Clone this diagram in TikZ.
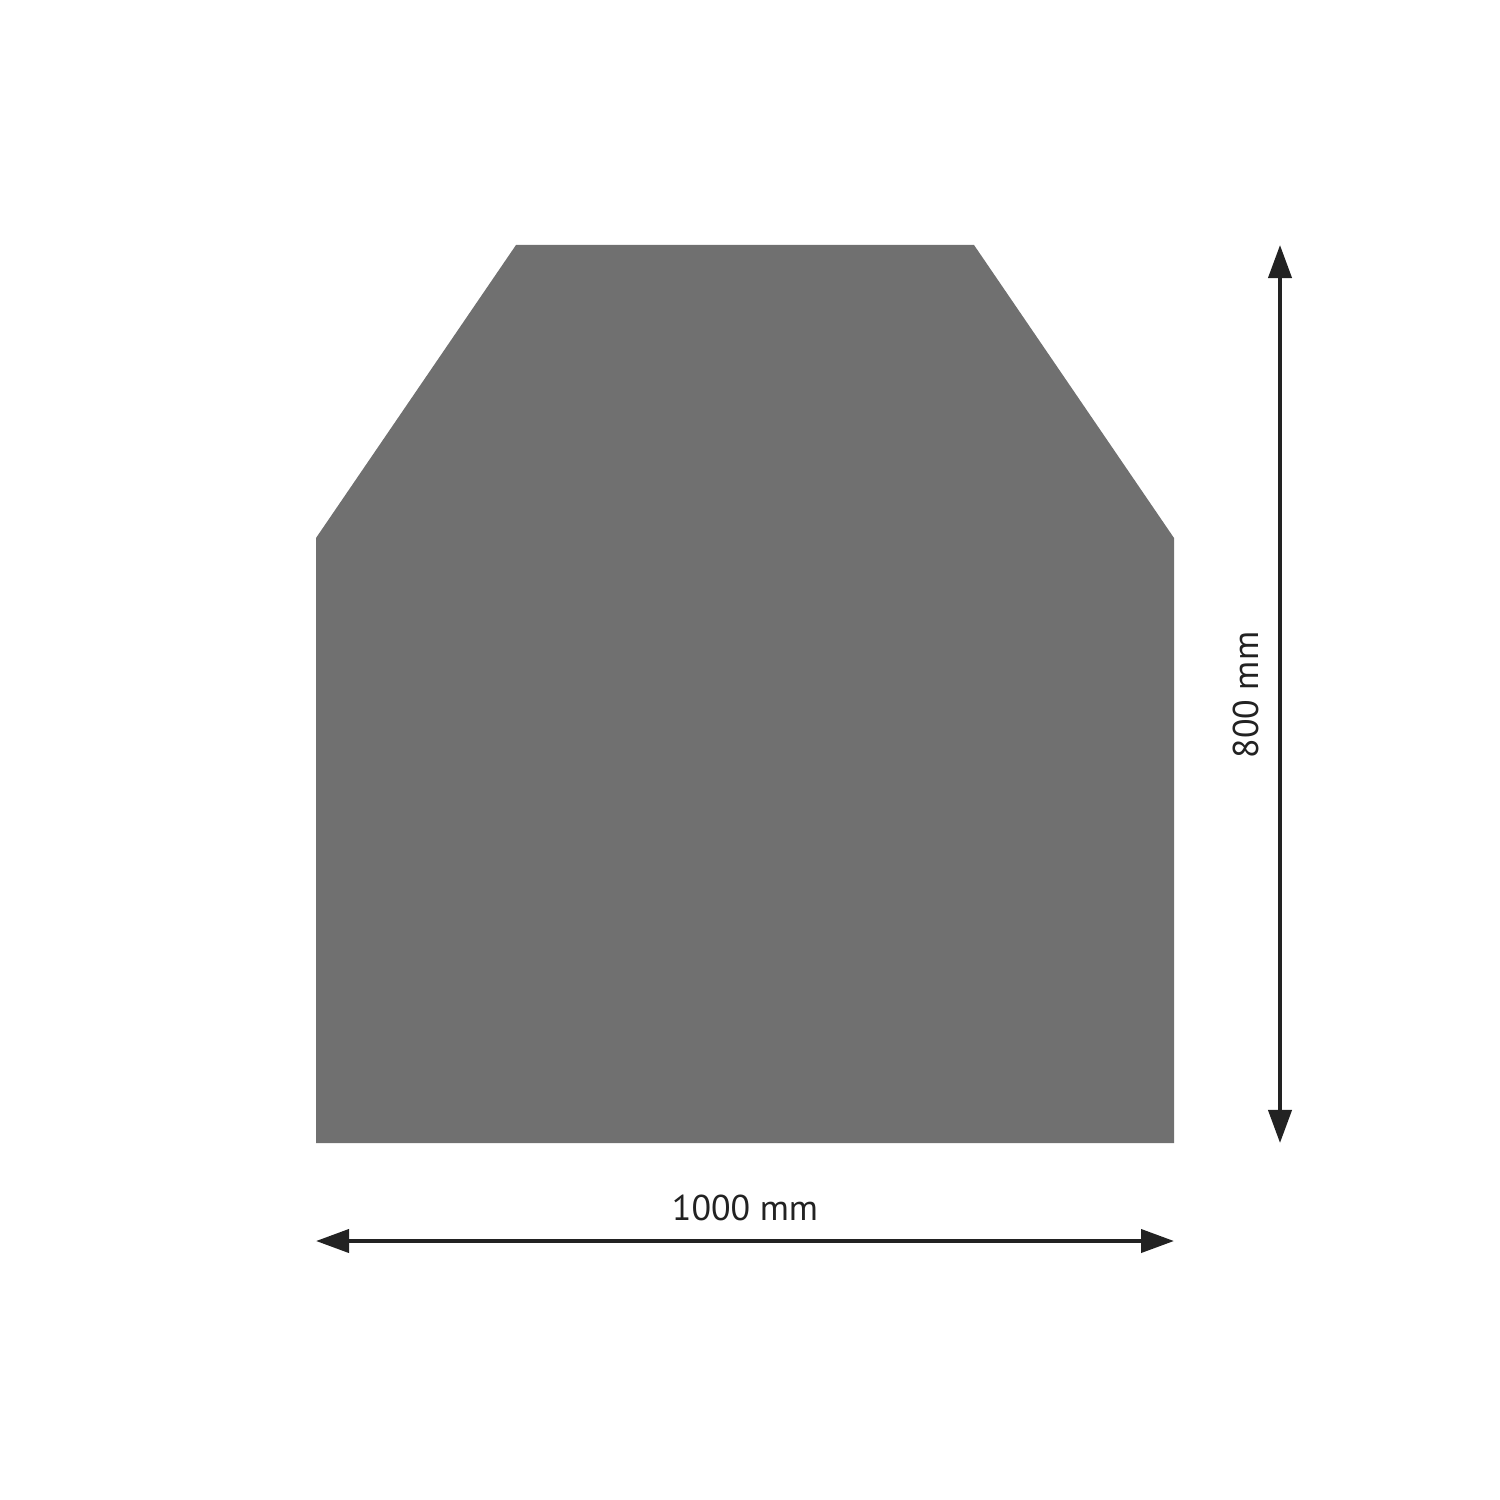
\documentclass[tikz,border=0pt]{standalone}
\usepackage{fontspec}
\setmainfont{PT Sans}
\usetikzlibrary{arrows.meta}
\definecolor{plate}{HTML}{707070}
\definecolor{dim}{HTML}{222222}
\begin{document}
\begin{tikzpicture}[x=0.01cm,y=-0.01cm,
  dimline/.style={draw=dim,line width=4*0.2845pt,{Triangle[length=33*0.2845pt,width=23*0.2845pt]}-{Triangle[length=33*0.2845pt,width=23*0.2845pt]}},
  dimtext/.style={text=dim,font=\fontsize{10.2pt}{12pt}\selectfont,inner sep=0pt}]
\useasboundingbox (0,0) rectangle (1500,1500);
\fill[plate] (316,538) -- (516,245) -- (974,245) -- (1174,538) -- (1174,1143) -- (316,1143) -- cycle;
\coordinate (hl) at (316,1241);
\coordinate (hr) at (1174,1241);
\coordinate (vt) at (1280,245);
\coordinate (vb) at (1280,1143);
\draw[dimline] (hl) -- (hr);
\draw[dimline] (vt) -- (vb);
\node[dimtext,anchor=base] (wlab) at (745,1220) {1000 mm};
\node[dimtext,anchor=base,rotate=90] (hlab) at (1258,695) {800 mm};
\end{tikzpicture}
\end{document}
